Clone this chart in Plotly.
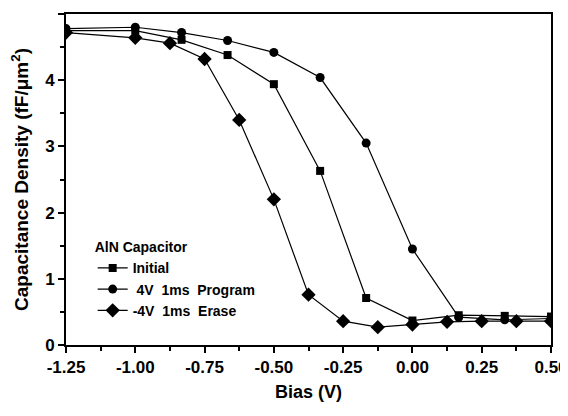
import plotly.graph_objects as go

# Data
bias_initial = [-1.25, -1.0, -0.833, -0.667, -0.5, -0.333, -0.167, 0.0, 0.167, 0.333, 0.5]
cap_initial = [4.75, 4.75, 4.61, 4.38, 3.94, 2.63, 0.71, 0.37, 0.45, 0.44, 0.43]

bias_program = [-1.25, -1.0, -0.833, -0.667, -0.5, -0.333, -0.167, 0.0, 0.167, 0.333, 0.5]
cap_program = [4.78, 4.80, 4.72, 4.60, 4.42, 4.04, 3.05, 1.45, 0.42, 0.38, 0.40]

bias_erase = [-1.25, -1.0, -0.875, -0.75, -0.625, -0.5, -0.375, -0.25, -0.125, 0.0, 0.125, 0.25, 0.375, 0.5]
cap_erase = [4.72, 4.64, 4.56, 4.32, 3.40, 2.20, 0.76, 0.36, 0.27, 0.31, 0.35, 0.36, 0.36, 0.36]

x_ticks = [-1.25, -1.0, -0.75, -0.5, -0.25, 0.0, 0.25, 0.5]
x_ticklabels = ["-1.25", "-1.00", "-0.75", "-0.50", "-0.25", "0.00", "0.25", "0.50"]
y_ticks = [0, 1, 2, 3, 4, 5]

series_names = ["Initial", " 4V\u00a0 1ms\u00a0 Program", "-4V\u00a0 1ms\u00a0 Erase"]

FONT = "Liberation Sans, Arial, sans-serif"

fig = go.Figure()
fig.add_trace(go.Scatter(x=bias_initial, y=cap_initial, mode="lines+markers", name=series_names[0],
                         line=dict(color="black", width=1.2),
                         marker=dict(symbol="square", size=8, color="black")))
fig.add_trace(go.Scatter(x=bias_program, y=cap_program, mode="lines+markers", name=series_names[1],
                         line=dict(color="black", width=1.2),
                         marker=dict(symbol="circle", size=9, color="black")))
fig.add_trace(go.Scatter(x=bias_erase, y=cap_erase, mode="lines+markers", name=series_names[2],
                         line=dict(color="black", width=1.2),
                         marker=dict(symbol="diamond", size=11, color="black")))

# The page body adds an 8px offset, so the figure is 8px smaller on each axis
fig.update_layout(
    width=560, height=408,
    margin=dict(l=58, r=17, t=6, b=71, autoexpand=False),
    paper_bgcolor="white", plot_bgcolor="white",
    font=dict(family=FONT, color="black"),
    showlegend=True,
    legend=dict(
        x=0.055, y=0.335, xanchor="left", yanchor="top",
        bgcolor="rgba(0,0,0,0)",
        title=dict(text="<b>AlN Capacitor</b>", font=dict(size=14, family=FONT)),
        font=dict(size=14, family=FONT, weight="bold"),
        itemwidth=30, tracegroupgap=0,
    ),
    xaxis=dict(
        range=[-1.25, 0.5], tickvals=x_ticks, ticktext=x_ticklabels,
        automargin=False,
        showline=True, linecolor="black", linewidth=2, mirror=True,
        ticks="outside", ticklen=6, tickwidth=2, tickcolor="black",
        minor=dict(dtick=0.125, ticks="outside", ticklen=4, tickwidth=1.5, tickcolor="black"),
        showgrid=False, zeroline=False,
        tickfont=dict(size=17, family=FONT, weight="bold"),
        title=dict(text="<b>Bias (V)</b>", font=dict(size=18, family=FONT), standoff=9),
    ),
    yaxis=dict(
        range=[0, 5], tickvals=y_ticks,
        automargin=False,
        showline=True, linecolor="black", linewidth=2, mirror=True,
        ticks="outside", ticklen=6, tickwidth=2, tickcolor="black",
        minor=dict(dtick=0.5, ticks="outside", ticklen=4, tickwidth=1.5, tickcolor="black"),
        showgrid=False, zeroline=False,
        tickfont=dict(size=17, family=FONT, weight="bold"),
        title=dict(text="<b>Capacitance Density (fF/μm<sup>2</sup>)</b>", font=dict(size=19, family=FONT), standoff=16),
    ),
)

fig.write_html("out.html")
